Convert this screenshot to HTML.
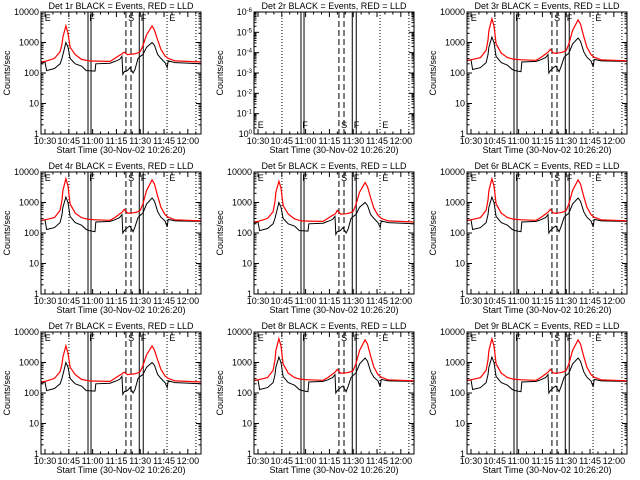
<!DOCTYPE html>
<html><head><meta charset="utf-8"><style>
html,body{margin:0;padding:0;background:#fff;}
svg{display:block;}
text{font-family:"Liberation Sans",sans-serif;font-size:9px;fill:#000;}
</style></head><body>
<svg id="fig" width="640" height="480" viewBox="0 0 640 480"></svg>
<script>
// time in minutes after 10:30
const times = [-2.5,0,1,6,9.5,10.7,11.3,13.2,14.5,15.8,19,23,26,28,31.5,32,41,44,47,48.5,49,50,52,53.5,55.5,56.7,58.6,60,61.7,64,67.5,69,71,73,75.6,77,77.6,82,98.3];
const tickLabels = ["10:30","10:45","11:00","11:15","11:30","11:45","12:00"];
const tickTimes = [0,15,30,45,60,75,90];
const detNames = ["1r","2r","3r","4r","5r","6r","7r","8r","9r"];
const redLow  = [230,240,250,300,500,900,1500,3500,2000,700,400,280,260,250,245,245,240,300,380,420,450,480,400,410,420,430,460,500,800,1800,3500,2500,1200,600,360,320,300,250,230];
const redHigh = [260,270,280,320,550,1200,2500,6000,3500,900,450,320,290,280,270,270,260,320,420,480,520,600,450,450,460,470,500,550,900,2500,5500,4000,1600,700,400,350,330,270,250];
const redMid  = [230,240,250,300,500,1100,2200,5000,3000,800,420,290,260,250,245,245,240,300,380,420,450,550,420,420,430,440,470,520,850,2200,4500,3300,1400,650,380,330,300,250,230];
const blkLow  = [210,230,120,140,200,300,400,1000,700,300,200,170,120,118,115,200,210,240,280,350,90,110,120,150,100,130,300,350,400,700,1000,800,400,300,220,150,250,220,200];
const blkHigh = [250,270,130,150,220,400,700,1500,1000,350,220,180,130,120,110,230,240,270,320,400,100,120,150,170,110,160,320,380,450,900,1400,1100,500,330,250,160,280,250,240];
const redSets = [redLow,null,redHigh,redHigh,redMid,redHigh,redLow,redHigh,redHigh];
const blkSets = [blkLow,null,blkHigh,blkHigh,blkLow,blkHigh,blkLow,blkHigh,blkHigh];
const solidLines = [27.1,29,59.4,61.9];
const dashedLines = [51,54.2];
const dottedLines = [15.1,76.9,95.1];
const NS = "http://www.w3.org/2000/svg";
const fig = document.getElementById("fig");
function mk(tag, attrs, parent){const e=document.createElementNS(NS,tag);for(const k in attrs)e.setAttribute(k,attrs[k]);parent.appendChild(e);return e;}
const L=41,R=201,T=12,B=134;
function xs(t){return 45+t*1.587;}
function ys(v){return B-(Math.log10(v))*(B-T)/4;}
detNames.forEach((d,i)=>{
  const col=i%3,row=Math.floor(i/3);
  const g=mk("g",{transform:`translate(${col*213},${row*160})`},fig);
  
  
  const title=mk("text",{x:121,y:9,"text-anchor":"middle","font-size":"10"},g);title.textContent=`Det ${d} BLACK = Events, RED = LLD`;
  
  
  const yl=mk("text",{x:10,y:73,"text-anchor":"middle",transform:"rotate(-90 10 73)","font-size":"8"},g);yl.textContent="Counts/sec";
  
  
  const xl=mk("text",{x:121,y:153,"text-anchor":"middle"},g);xl.textContent="Start Time (30-Nov-02 10:26:20)";
  
  
  tickTimes.forEach((tt,k)=>{
    const x=xs(tt);
    mk("line",{x1:x,x2:x,y1:B,y2:B-5,stroke:"#000"},g);
    mk("line",{x1:x,x2:x,y1:T,y2:T+5,stroke:"#000"},g);
    const tl=mk("text",{x:x,y:144,"text-anchor":"middle"},g);tl.textContent=tickLabels[k];
    
    
    for(let m=5;m<15;m+=5){const xm=xs(tt+m);if(xm<R){mk("line",{x1:xm,x2:xm,y1:B,y2:B-2.5,stroke:"#000"},g);mk("line",{x1:xm,x2:xm,y1:T,y2:T+2.5,stroke:"#000"},g);}}
  });
  if(redSets[i]){
    for(let e=0;e<=4;e++){
      const y=ys(Math.pow(10,e));
      mk("line",{x1:L,x2:L+5,y1:y,y2:y,stroke:"#000"},g);mk("line",{x1:R,x2:R-5,y1:y,y2:y,stroke:"#000"},g);
      const lb=mk("text",{x:L-2,y:y+3,"text-anchor":"end"},g);lb.textContent=String(Math.pow(10,e));
      
      
      if(e<4)for(let m=2;m<10;m++){const ym=ys(m*Math.pow(10,e));mk("line",{x1:L,x2:L+2.5,y1:ym,y2:ym,stroke:"#000"},g);mk("line",{x1:R,x2:R-2.5,y1:ym,y2:ym,stroke:"#000"},g);}
    }
  } else {
    for(let e=0;e<=6;e++){
      const y=T+e*(B-T)/6;
      mk("line",{x1:L,x2:L+5,y1:y,y2:y,stroke:"#000"},g);mk("line",{x1:R,x2:R-5,y1:y,y2:y,stroke:"#000"},g);
      const lb=mk("text",{x:L-2,y:y+3,"text-anchor":"end"},g);lb.innerHTML=`10<tspan dy="-3" font-size="6">${e==6?"0":"-"+(6-e)}</tspan>`;
      
      
      if(e<6)for(let m=2;m<10;m++){const ym=y+(B-T)/6*(1-Math.log10(m));mk("line",{x1:L,x2:L+2.5,y1:ym,y2:ym,stroke:"#000"},g);mk("line",{x1:R,x2:R-2.5,y1:ym,y2:ym,stroke:"#000"},g);}
    }
  }
  dottedLines.forEach(t=>mk("line",{x1:xs(t),x2:xs(t),y1:T,y2:B,stroke:"#000","stroke-dasharray":"1,2"},g));
  dashedLines.forEach(t=>mk("line",{x1:xs(t),x2:xs(t),y1:T,y2:B,stroke:"#000","stroke-dasharray":"6,3"},g));
  solidLines.forEach(t=>mk("line",{x1:xs(t),x2:xs(t),y1:T,y2:B,stroke:"#000"},g));
  const ly=redSets[i]?21:128;
  [["E",0.5],["F",28.5],["S",53],["F",61],["E",79]].forEach(p=>{const t=mk("text",{x:xs(p[1])-1,y:ly,"font-size":"12"},g);t.textContent=p[0];
    
    });
  if(redSets[i]){
    const bp=mk("polyline",{points:times.map((t,k)=>xs(t).toFixed(1)+","+ys(blkSets[i][k]).toFixed(1)).join(" "),fill:"none",stroke:"#000","stroke-width":1},g);
    
    
    const rp=mk("polyline",{points:times.map((t,k)=>xs(t).toFixed(1)+","+ys(redSets[i][k]).toFixed(1)).join(" "),fill:"none",stroke:"#ff0000","stroke-width":1.2},g);
    
    
  }
  const fr=mk("rect",{x:L,y:T,width:R-L,height:B-T,fill:"none",stroke:"#000"},g);
  
  
});
</script>
</body></html>
